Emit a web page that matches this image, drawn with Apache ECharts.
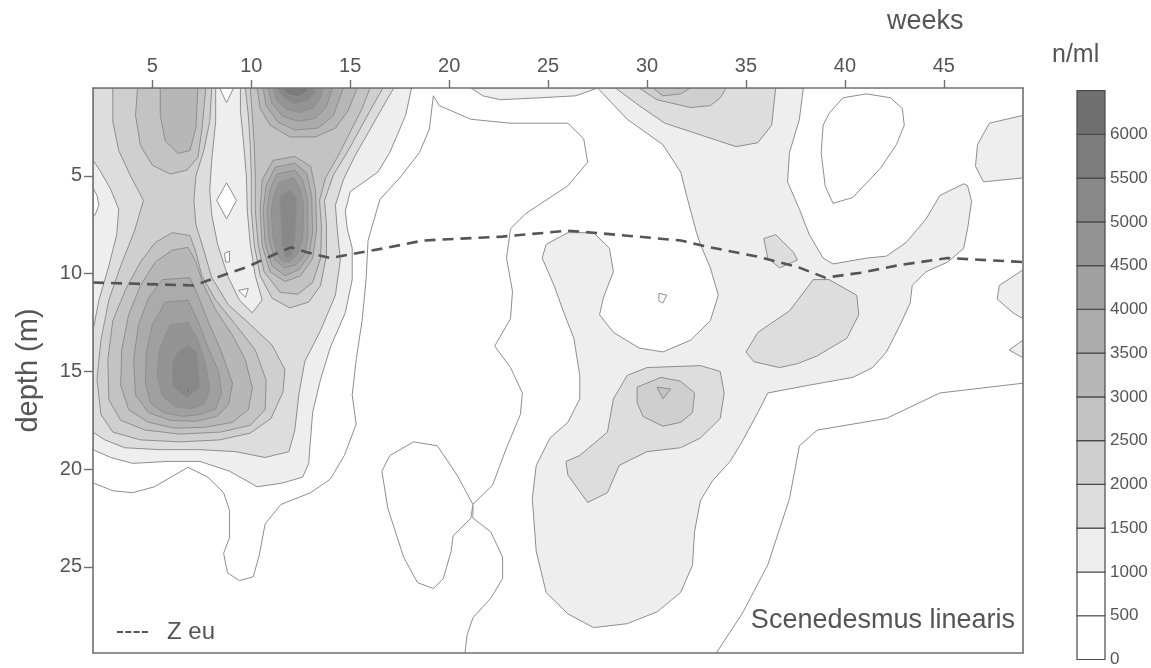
<!DOCTYPE html>
<html>
<head>
<meta charset="utf-8">
<title>Scenedesmus linearis</title>
<script src="https://cdn.jsdelivr.net/npm/echarts@6/dist/echarts.min.js"></script>
<style>
  html, body { margin: 0; padding: 0; background: #ffffff; }
  #chart { width: 1151px; height: 668px; }
</style>
</head>
<body>
<div id="chart"></div>
<script>
// ---- axes -------------------------------------------------------------
const weekRange = [2, 49];
const depthRange = [0.5, 29.4];
const weekTicks = [5, 10, 15, 20, 25, 30, 35, 40, 45];
const depthTicks = [5, 10, 15, 20, 25];

// ---- density classes (n/ml), lower bound of each class ----------------
const levels = [0, 500, 1000, 1500, 2000, 2500, 3000, 3500, 4000, 4500, 5000, 5500, 6000];
const levelColors = ['#ffffff', '#ffffff', '#eeeeee', '#dddddd', '#cfcfcf', '#c3c3c3',
                     '#b7b7b7', '#ababab', '#a0a0a0', '#949494', '#888888', '#7c7c7c', '#6f6f6f'];
const colorbarTicks = [0, 500, 1000, 1500, 2000, 2500, 3000, 3500, 4000, 4500, 5000, 5500, 6000];

// ---- euphotic depth (Z eu) ---------------------------------------------
const euWeeks  = [2, 7.1, 7.8, 9.8, 11.3, 12, 12.8, 14, 16.7, 18.7, 22.7, 26, 27.3, 31.7, 33.2, 35.7, 37.6, 39, 40.8, 42.8, 45.2, 49];
const euDepths = [10.45, 10.6, 10.35, 9.65, 8.95, 8.65, 8.9, 9.2, 8.7, 8.3, 8.1, 7.8, 7.9, 8.3, 8.65, 9.15, 9.65, 10.2, 9.95, 9.55, 9.2, 9.4];

// ---- contour outlines, vertices as [week, depth] ------------------------
// 500 n/ml isolines
const iso500Main = [[2,20.7],[3,21.1],[4,21.2],[5.1,20.9],[6.8,19.9],[7.8,20.4],[8.6,21.2],[8.9,22.1],[8.9,23.5],[8.6,24.3],[8.8,25.3],[9.4,25.7],[10.1,25.5],[10.4,24.4],[10.7,22.8],[11.5,21.8],[13,21.2],[14,20.5],[14.7,19.3],[15.3,17.7],[15.1,16.2],[15.3,14.4],[15.6,12.4],[15.8,10.3],[15.9,8.3],[16.5,6.2],[17.5,5.1],[18.5,3.8],[19,2.6],[19.2,0.9],[19.5,1.4],[21.1,2.1],[23.1,2.3],[26,2.3],[26.8,3.1],[27,4.3],[26,5.5],[23.9,6.9],[23.1,7.7],[22.9,9.2],[23.2,10.9],[23.1,12.3],[22.3,13.7],[23.1,14.8],[23.7,16.1],[23.6,17.2],[22.9,18.9],[22.2,20.8],[21.2,21.8],[21.2,22.5],[22.1,23.2],[22.7,24.5],[22.7,25.6],[22.1,26.6],[21.2,27.6],[20.9,28.5],[20.8,29.4]];
const iso500Lobe = [[21.2,21.8],[20.4,20.3],[19.4,18.8],[18.2,18.6],[17.0,19.3],[16.6,20.1],[16.9,22.0],[17.7,24.5],[18.4,25.8],[19.2,26.1],[19.7,25.6],[20.1,24.2],[20.2,23.4],[21.1,22.5]];
const iso500NorthEast = [[39.9,1.0],[41.1,0.8],[42.3,1.0],[42.9,1.55],[43.0,2.4],[42.6,3.4],[41.8,4.6],[40.4,6.1],[39.4,6.4],[39.0,5.5],[38.8,3.8],[38.9,2.4],[39.2,1.8]];
const iso500SouthEast = [[49,15.6],[44.8,16.1],[42.1,17.4],[38.6,18.0],[37.7,18.8],[37.2,21.5],[36.1,24.9],[34.8,27.4],[33.5,29.4]];
const iso500Bay = [[30.6,11.0],[31.0,11.1],[30.8,11.5],[30.6,11.4]];

// 1000 n/ml areas
const west1000 = [[2,0.5],[18.1,0.5],[17.8,1.9],[17.0,3.8],[16.4,4.8],[15.0,5.8],[14.75,6.8],[14.85,7.7],[15.1,8.7],[15.1,10.3],[14.75,12.0],[14.0,13.75],[13.5,15.4],[13.1,17.1],[12.9,19.7],[12.6,20.4],[11.6,20.7],[10.3,20.9],[8.9,20.1],[7.4,19.6],[5.8,19.6],[4.0,19.7],[2.9,19.4],[2,19.0]];
const east1000 = [[27.5,0.5],[37.9,0.5],[37.7,2.1],[37.2,3.8],[37.1,5.3],[37.7,6.7],[38.2,8.0],[38.9,9.2],[39.4,9.5],[41.1,9.2],[42.1,9.1],[43.1,8.4],[44.1,7.2],[44.8,6.0],[46.0,5.4],[46.2,5.5],[46.4,6.3],[46.2,7.7],[46.0,8.7],[45.2,9.4],[44.1,9.9],[43.4,10.6],[43.3,11.5],[42.8,12.6],[42.1,14.0],[41.4,14.8],[40.4,15.3],[38.2,15.7],[36.1,16.1],[35.6,17.1],[34.8,18.6],[34.2,19.6],[33.3,20.6],[32.7,21.6],[32.4,23.2],[32.3,24.9],[31.7,26.3],[30.5,27.3],[29.0,27.9],[27.3,28.1],[26.0,27.4],[24.9,26.3],[24.4,24.2],[24.2,21.5],[24.4,19.8],[25.1,18.4],[26.0,17.6],[26.6,16.4],[26.6,15.2],[26.3,13.3],[25.8,12.0],[25.3,10.6],[24.7,9.2],[24.9,8.5],[26.0,7.9],[27.3,7.9],[28.1,8.7],[28.3,9.9],[27.8,11.2],[27.6,12.1],[28.3,13.0],[29.6,13.8],[30.8,14.0],[32.2,13.4],[33.2,12.4],[33.6,11.1],[33.2,9.7],[32.7,8.5],[32.5,7.9],[32.0,6.0],[31.7,4.8],[30.8,3.4],[29.0,2.1]];
const surface1000 = [[21.1,0.5],[21.7,0.9],[22.6,1.1],[24.6,1.0],[26.4,0.9],[27.5,0.5]];
const edge1000a = [[46.7,3.4],[47.3,2.3],[49,1.9],[49,5.1],[47.0,5.3],[46.6,4.5]];
const edge1000b = [[49,9.8],[47.8,10.6],[47.7,11.3],[48.5,12.0],[49,12.3]];
const edge1000c = [[49,13.4],[48.3,13.9],[49,14.3]];

// low pockets inside the 1000 area
const pocketEdge = [[2,5.6],[2.2,6.0],[2.3,6.5],[2.1,7.0],[2,7.1]];
const pocketTop = [[8.4,0.5],[9.1,0.5],[8.75,1.25]];
const pocketDiamond = [[8.75,5.35],[9.25,6.25],[8.75,7.2],[8.25,6.25]];
const pocketSpotA = [[8.65,8.95],[8.9,8.85],[8.9,9.4],[8.7,9.4]];
const pocketSpotB = [[9.35,10.85],[9.85,10.75],[9.7,11.2]];

// 1500 n/ml areas
const west1500 = [[2,0.5],[8.2,0.5],[8.2,2.2],[8.0,4.2],[7.9,5.7],[8.0,7.0],[8.3,8.5],[8.8,10.1],[9.4,11.35],[10.05,12.0],[10.55,11.35],[10.2,10.1],[9.95,8.5],[9.8,6.8],[9.75,5.0],[9.6,3.2],[9.45,1.65],[9.45,0.5],[17.2,0.5],[16.6,1.55],[15.9,2.8],[15.25,3.95],[14.65,5.2],[14.25,6.5],[14.35,7.8],[14.5,9.3],[14.25,11.1],[13.5,12.9],[12.7,14.5],[12.4,16.2],[12.2,18.0],[11.9,19.1],[10.7,19.4],[9.2,19.1],[7.4,19.0],[5.4,19.0],[3.6,18.9],[2.6,18.5],[2,18.1],[2,12.9],[2.3,11.35],[2.8,9.6],[3.2,8.0],[3.3,6.7],[2.9,5.7],[2.4,4.8],[2,4.2]];
const east1500Top = [[28.4,0.5],[29.6,1.4],[30.9,2.3],[32.7,2.9],[34.5,3.5],[35.6,3.3],[36.3,2.4],[36.5,0.5]];
const east1500Low = [[26.0,20.3],[25.9,19.6],[26.6,19.3],[28.0,18.1],[28.3,16.4],[29.0,15.2],[30.0,14.8],[32.7,14.7],[33.7,15.0],[33.9,16.1],[33.7,17.4],[32.7,18.4],[31.7,18.9],[30.0,19.1],[28.6,19.8],[28.0,21.2],[27.0,21.7]];
const east1500Mid = [[38.4,10.3],[39.2,10.3],[40.6,11.1],[40.7,12.1],[40.1,13.3],[38.6,14.2],[37.6,14.6],[36.7,14.8],[35.4,14.5],[35.0,14.0],[35.6,13.0],[37.2,11.9]];
const east1500Small = [[35.9,8.2],[36.5,8.0],[37.4,8.9],[37.6,9.3],[36.7,9.7],[36.1,9.2]];

// 2000 n/ml and above: early-year maxima
const colA2000 = [[3.0,0.5],[3.0,2.2],[3.3,3.7],[3.9,5.0],[4.55,6.25],[4.1,7.8],[3.4,9.6],[2.8,11.35],[2.4,13.4],[2.2,15.4],[2.4,17.2],[3.0,18.1],[4.4,18.5],[6.4,18.6],[8.4,18.5],[9.95,18.15],[11.0,17.4],[11.6,16.05],[11.7,14.9],[11.05,13.65],[9.95,12.6],[8.85,11.6],[8.0,10.2],[7.6,8.8],[7.2,7.5],[7.1,6.25],[7.2,5.0],[7.6,3.7],[7.9,2.2],[8.0,0.5]];
const colATop2500 = [[4.25,0.5],[4.15,1.9],[4.4,3.45],[5.0,4.45],[5.9,4.9],[6.75,4.7],[7.3,4.05],[7.5,2.65],[7.7,0.5]];
const colATop3000 = [[5.4,0.5],[5.4,1.9],[5.65,3.2],[6.3,3.85],[6.9,3.7],[7.2,2.55],[7.3,0.5]];
const colADeep2500 = [[6.9,8.05],[7.2,8.9],[7.5,10.1],[8.2,11.35],[9.2,12.6],[10.2,13.9],[10.75,15.45],[10.7,16.95],[9.95,17.75],[8.45,18.1],[6.4,18.2],[4.65,18.0],[3.4,17.5],[2.8,16.45],[2.75,14.4],[3.0,12.4],[3.65,10.8],[4.4,9.4],[5.15,8.4],[6.0,7.9]];
const colADeep3000 = [[6.0,8.8],[6.8,8.65],[7.2,9.4],[7.6,10.6],[8.2,11.85],[9.05,13.15],[9.7,14.4],[10.05,15.85],[9.85,16.95],[9.05,17.6],[7.7,17.85],[6.15,17.9],[4.8,17.6],[3.8,16.95],[3.4,15.7],[3.45,13.9],[3.8,12.1],[4.4,10.6],[5.15,9.4]];
const colADeep3500 = [[5.5,10.3],[6.9,10.2],[7.3,11.1],[7.8,12.4],[8.45,13.9],[9.05,15.6],[8.85,16.7],[8.25,17.3],[7.2,17.55],[5.9,17.5],[4.8,17.1],[4.15,16.2],[4.05,14.4],[4.3,12.6],[4.8,11.25]];
const colADeep4000 = [[5.65,11.45],[6.8,11.35],[7.3,12.4],[7.8,13.75],[8.35,15.0],[8.5,16.1],[8.2,16.9],[7.4,17.2],[6.55,17.3],[5.55,17.1],[4.9,16.6],[4.65,15.55],[4.7,14.0],[5.0,12.6]];
const colADeep4500 = [[5.9,12.6],[6.8,12.5],[7.3,13.4],[7.7,14.7],[7.9,15.95],[7.6,16.7],[6.9,16.9],[6.15,16.8],[5.5,16.25],[5.25,15.2],[5.35,13.9]];
const colADeep5000 = [[6.25,14.05],[6.8,13.65],[7.25,14.05],[7.4,15.8],[6.75,16.35],[6.05,15.8],[6.0,14.6]];
const colADeep5500 = [[6.8,15.6],[6.9,16.05],[6.7,16.05]];

const colB2000 = [[9.7,0.5],[9.85,1.9],[9.95,3.45],[10.0,4.95],[10.0,6.75],[10.15,8.55],[10.45,10.1],[11.05,11.25],[11.95,11.75],[12.9,11.45],[13.5,10.6],[13.8,9.05],[13.8,7.5],[13.7,6.25],[14.15,4.95],[14.9,3.7],[15.6,2.4],[16.15,1.4],[16.65,0.5]];
const colB2500 = [[9.95,0.5],[10.05,1.9],[10.15,3.45],[10.2,4.95],[10.2,6.75],[10.35,8.55],[10.65,9.9],[11.45,10.95],[12.35,11.05],[13.1,10.45],[13.5,9.2],[13.55,7.7],[13.45,6.25],[13.75,5.1],[14.4,3.95],[15.1,2.55],[15.6,1.55],[16.0,0.5]];
const colBTop3000 = [[10.3,0.5],[10.45,1.55],[10.95,2.4],[11.95,3.0],[13.25,3.0],[14.25,2.55],[14.9,1.65],[15.35,0.5]];
const colBTop3500 = [[10.6,0.5],[10.75,1.4],[11.35,2.25],[12.2,2.65],[13.4,2.55],[14.15,1.9],[14.65,0.5]];
const colBTop4000 = [[10.85,0.5],[11.05,1.3],[11.6,1.95],[12.35,2.2],[13.25,2.05],[13.8,1.45],[14.1,0.5]];
const colBTop4500 = [[11.1,0.5],[11.3,1.15],[11.8,1.6],[12.45,1.75],[13.15,1.5],[13.5,1.0],[13.6,0.5]];
const colBTop5000 = [[11.3,0.5],[11.6,1.0],[12.2,1.3],[12.85,1.15],[13.15,0.8],[13.25,0.5]];
const colBTop5500 = [[11.55,0.5],[11.85,0.85],[12.35,0.95],[12.75,0.75],[12.9,0.5]];
const colBMid3000 = [[11.1,4.2],[12.2,4.0],[13.0,4.5],[13.25,5.75],[13.3,7.8],[13.1,9.2],[12.5,10.1],[11.7,10.4],[10.95,9.9],[10.55,8.55],[10.45,6.75],[10.55,5.2]];
const colBMid3500 = [[11.2,4.55],[12.2,4.35],[12.8,4.85],[13.05,6.0],[13.1,7.9],[12.9,9.1],[12.4,9.8],[11.7,10.1],[11.05,9.6],[10.7,8.45],[10.6,6.75],[10.75,5.5]];
const colBMid4000 = [[11.3,4.9],[12.2,4.7],[12.6,5.2],[12.85,6.25],[12.85,8.05],[12.7,9.0],[12.25,9.55],[11.7,9.7],[11.2,9.3],[10.9,8.3],[10.8,6.75],[10.95,5.7]];
const colBMid4500 = [[11.4,5.35],[12.15,5.1],[12.45,5.65],[12.65,6.5],[12.6,8.2],[12.35,8.95],[12.0,9.35],[11.6,9.4],[11.3,9.0],[11.1,8.15],[11.0,6.75],[11.15,6.0]];
const colBMid5000 = [[11.45,6.05],[11.95,5.7],[12.3,6.15],[12.25,7.0],[12.2,8.3],[12.05,9.05],[11.75,9.2],[11.55,8.4],[11.5,7.2]];

// late-summer maxima
const east2000Top = [[29.6,0.5],[30.5,1.1],[32.2,1.5],[33.2,1.4],[33.7,1.0],[34.0,0.5]];
const east2500Top = [[30.3,0.5],[30.8,0.9],[31.7,0.8],[32.2,0.5]];
const east2000Low = [[29.5,15.8],[30.7,15.3],[31.7,15.5],[32.4,16.1],[32.3,17.1],[31.7,17.6],[30.8,17.8],[29.8,17.3],[29.5,16.6]];
const east2500Low = [[30.5,15.8],[31.2,15.9],[30.8,16.4]];

// drawing order: each entry is painted over the previous ones
const contours = [
  { level: 500, open: true, path: iso500Main },
  { level: 500, path: iso500Lobe },
  { level: 500, path: iso500NorthEast },
  { level: 500, open: true, path: iso500SouthEast },
  { level: 500, path: iso500Bay },
  { level: 1000, path: west1000 },
  { level: 1000, path: east1000 },
  { level: 1000, path: surface1000 },
  { level: 1000, path: edge1000a },
  { level: 1000, path: edge1000b },
  { level: 1000, path: edge1000c },
  { level: 500, path: pocketEdge },
  { level: 500, path: pocketTop },
  { level: 500, path: pocketDiamond },
  { level: 500, path: pocketSpotA },
  { level: 500, path: pocketSpotB },
  { level: 1500, path: west1500 },
  { level: 1500, path: east1500Top },
  { level: 1500, path: east1500Low },
  { level: 1500, path: east1500Mid },
  { level: 1500, path: east1500Small },
  { level: 2000, path: colA2000 },
  { level: 2000, path: colB2000 },
  { level: 2000, path: east2000Top },
  { level: 2000, path: east2000Low },
  { level: 2500, path: colATop2500 },
  { level: 2500, path: colADeep2500 },
  { level: 2500, path: colB2500 },
  { level: 2500, path: east2500Top },
  { level: 2500, path: east2500Low },
  { level: 3000, path: colATop3000 },
  { level: 3000, path: colADeep3000 },
  { level: 3000, path: colBTop3000 },
  { level: 3000, path: colBMid3000 },
  { level: 3500, path: colADeep3500 },
  { level: 3500, path: colBTop3500 },
  { level: 3500, path: colBMid3500 },
  { level: 4000, path: colADeep4000 },
  { level: 4000, path: colBTop4000 },
  { level: 4000, path: colBMid4000 },
  { level: 4500, path: colADeep4500 },
  { level: 4500, path: colBTop4500 },
  { level: 4500, path: colBMid4500 },
  { level: 5000, path: colADeep5000 },
  { level: 5000, path: colBTop5000 },
  { level: 5000, path: colBMid5000 },
  { level: 5500, path: colADeep5500 },
  { level: 5500, path: colBTop5500 }
];

// ---- styling ----------------------------------------------------------
const FONT = '"Liberation Sans", Arial, Helvetica, sans-serif';
const TEXT = '#555555';
const FRAME = '#707070';
const ISOLINE = '#8e8e8e';
const EU_COLOR = '#555555';

function classColor(level) {
  return levelColors[levels.indexOf(level)];
}

function renderContour(params, api) {
  const c = contours[params.dataIndex];
  const pts = c.path.map(p => api.coord(p));
  if (c.open) {
    return { type: 'polyline', shape: { points: pts },
             style: { fill: 'none', stroke: ISOLINE, lineWidth: 1 } };
  }
  return { type: 'polygon', shape: { points: pts },
           style: { fill: classColor(c.level), stroke: ISOLINE, lineWidth: 1 } };
}

function renderClass(params, api) {
  const lo = levels[params.dataIndex];
  const p0 = api.coord([0, lo]);
  const p1 = api.coord([1, lo + 500]);
  return {
    type: 'rect',
    shape: { x: p0[0], y: p1[1], width: p1[0] - p0[0], height: p0[1] - p1[1] },
    style: { fill: levelColors[params.dataIndex], stroke: '#4a4a4a', lineWidth: 1.2 }
  };
}

const chart = echarts.init(document.getElementById('chart'), null, { renderer: 'canvas' });

const frameLine = { show: true, lineStyle: { color: FRAME, width: 1.6 } };

// legend key: four short dashes
const dashIcon = 'path://M0,0h6v2h-6z M8.3,0h6v2h-6z M16.6,0h6v2h-6z M24.9,0h6v2h-6z';

chart.setOption({
  animation: false,
  backgroundColor: '#ffffff',
  textStyle: { fontFamily: FONT },
  title: [
    { text: 'weeks', left: 887, top: 8, padding: 0,
      textStyle: { fontSize: 27, fontWeight: 'normal', color: TEXT, fontFamily: FONT } },
    { text: 'n/ml', left: 1052, top: 43, padding: 0,
      textStyle: { fontSize: 25, fontWeight: 'normal', color: TEXT, fontFamily: FONT } },
    { text: 'Scenedesmus linearis', right: 136, top: 607, padding: 0,
      textStyle: { fontSize: 27, fontWeight: 'normal', color: TEXT, fontFamily: FONT } }
  ],
  legend: {
    data: [{ name: 'Z eu', icon: dashIcon }], left: 117, top: 620, padding: 0,
    itemWidth: 31, itemHeight: 2,
    itemStyle: { color: EU_COLOR },
    textStyle: { fontSize: 24, color: TEXT, fontFamily: FONT, padding: [0, 0, 0, 14] }
  },
  grid: [
    { left: 93, right: 128, top: 88, bottom: 15 },
    { left: 1077, width: 28, top: 90.6, bottom: 8 }
  ],
  xAxis: [
    { type: 'value', gridIndex: 0, position: 'top', min: weekRange[0], max: weekRange[1], z: 10,
      axisLine: frameLine,
      axisTick: { show: true, inside: false, length: 8, customValues: weekTicks,
                  lineStyle: { color: FRAME, width: 1.4 } },
      axisLabel: { customValues: weekTicks, fontSize: 20, color: TEXT, margin: 12, fontFamily: FONT },
      splitLine: { show: false } },
    { type: 'value', gridIndex: 0, position: 'bottom', min: weekRange[0], max: weekRange[1], z: 10,
      axisLine: frameLine, axisTick: { show: false }, axisLabel: { show: false },
      splitLine: { show: false } },
    { type: 'value', gridIndex: 1, min: 0, max: 1, show: false }
  ],
  yAxis: [
    { type: 'value', gridIndex: 0, inverse: true, min: depthRange[0], max: depthRange[1], z: 10,
      name: 'depth (m)', nameLocation: 'middle', nameGap: 50, nameRotate: 90,
      nameTextStyle: { fontSize: 29, color: TEXT, fontFamily: FONT },
      axisLine: frameLine,
      axisTick: { show: true, inside: false, length: 9, customValues: depthTicks,
                  lineStyle: { color: FRAME, width: 1.4 } },
      axisLabel: { customValues: depthTicks, fontSize: 20, color: TEXT, margin: 11, fontFamily: FONT },
      splitLine: { show: false } },
    { type: 'value', gridIndex: 0, position: 'right', inverse: true, min: depthRange[0], max: depthRange[1], z: 10,
      axisLine: frameLine, axisTick: { show: false }, axisLabel: { show: false },
      splitLine: { show: false } },
    { type: 'value', gridIndex: 1, position: 'right', min: 0, max: 6500,
      axisLine: { show: false }, axisTick: { show: false },
      axisLabel: { customValues: colorbarTicks, fontSize: 17, color: TEXT, margin: 5, fontFamily: FONT,
                   formatter: v => String(v) },
      splitLine: { show: false } }
  ],
  series: [
    { type: 'custom', name: 'contours', xAxisIndex: 0, yAxisIndex: 0, clip: true, silent: true, z: 2,
      renderItem: renderContour,
      data: contours.map(c => c.path[0]) },
    { type: 'line', name: 'Z eu', xAxisIndex: 0, yAxisIndex: 0, symbol: 'none', silent: true, z: 5,
      color: EU_COLOR,
      itemStyle: { color: EU_COLOR },
      lineStyle: { color: EU_COLOR, width: 2.6, type: [11, 7] },
      data: euWeeks.map((w, i) => [w, euDepths[i]]) },
    { type: 'custom', name: 'classes', xAxisIndex: 2, yAxisIndex: 2, silent: true,
      renderItem: renderClass,
      data: levels.map(l => [0, l]) }
  ]
});
</script>
</body>
</html>
